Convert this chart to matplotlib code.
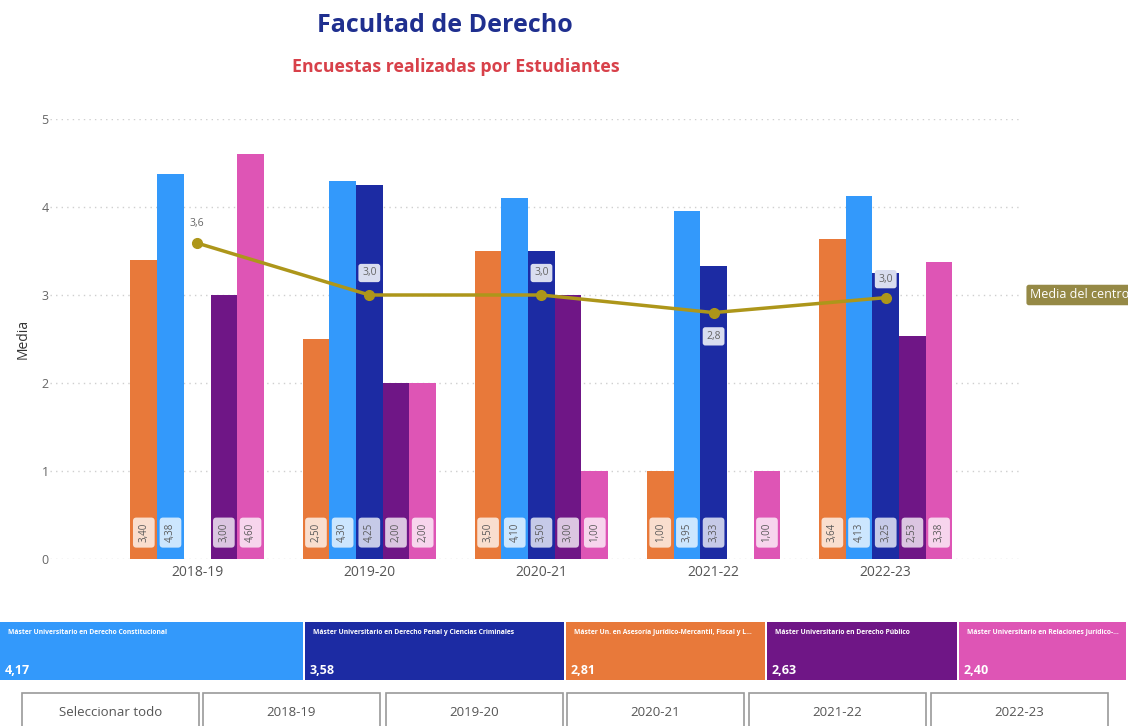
import numpy as np
import matplotlib
matplotlib.use("Agg")
import matplotlib.pyplot as plt
from matplotlib.patches import Rectangle
from matplotlib import colors as mcolors

plt.rcParams['font.family'] = ['Open Sans', 'DejaVu Sans']

years = ["2018-19", "2019-20", "2020-21", "2021-22", "2022-23"]
series_names = [
    "Máster Un. en Asesoría Jurídico-Mercantil, Fiscal y L...",
    "Máster Universitario en Derecho Constitucional",
    "Máster Universitario en Derecho Penal y Ciencias Criminales",
    "Máster Universitario en Derecho Público",
    "Máster Universitario en Relaciones Jurídico-...",
]
asesoria = [3.40, 2.50, 3.50, 1.00, 3.64]
constitucional = [4.38, 4.30, 4.10, 3.95, 4.13]
penal = [np.nan, 4.25, 3.50, 3.33, 3.25]
publico = [3.00, 2.00, 3.00, np.nan, 2.53]
relaciones = [4.60, 2.00, 1.00, 1.00, 3.38]
series_values = [asesoria, constitucional, penal, publico, relaciones]
series_colors = ["#e8793a", "#3399fb", "#1c2ba3", "#6f1686", "#de55b5"]

media_centro = [3.59, 3.0, 3.0, 2.80, 2.97]
media_labels = ["3,6", "3,0", "3,0", "2,8", "3,0"]

card_names = [
    "Máster Universitario en Derecho Constitucional",
    "Máster Universitario en Derecho Penal y Ciencias Criminales",
    "Máster Un. en Asesoría Jurídico-Mercantil, Fiscal y L...",
    "Máster Universitario en Derecho Público",
    "Máster Universitario en Relaciones Jurídico-...",
]
card_values = [4.17, 3.58, 2.81, 2.63, 2.40]
card_colors = ["#3399fb", "#1c2ba3", "#e8793a", "#6f1686", "#de55b5"]
button_labels = ["Seleccionar todo"] + years

W, H = 1128, 726
fig = plt.figure(figsize=(W / 100, H / 100), dpi=100)
fig.patch.set_facecolor("white")

# main axes: y=0 at px 559, y=5 at px 119; x from px 50 to 1020
ax = fig.add_axes([50 / W, (H - 559) / H, 970 / W, 440 / H])
ax.set_xlim(-0.855, 4.78)
ax.set_ylim(0, 5)
for s in ax.spines.values():
    s.set_visible(False)
ax.set_yticks(range(6))
ax.set_yticklabels([str(i) for i in range(6)], color="#666666", fontsize=9)
ax.tick_params(axis="both", length=0)
ax.tick_params(axis="y", pad=1)
ax.set_xticks(range(len(years)))
ax.set_xticklabels(years, color="#555555", fontsize=10)
ax.tick_params(axis="x", pad=4)
ax.grid(axis="y", color="#cfcfcf", linestyle=(0, (1, 3)), linewidth=1)
ax.set_axisbelow(True)
ax.set_ylabel("Media", fontsize=10, color="#333333", labelpad=8)

x = np.arange(len(years))
bw = 0.155
n = len(series_values)
for i, (vals, col) in enumerate(zip(series_values, series_colors)):
    off = (i - (n - 1) / 2) * bw
    vals = np.array(vals, dtype=float)
    mask = ~np.isnan(vals)
    ax.bar(x[mask] + off, vals[mask], width=bw, color=col, zorder=2)
    light = np.array(mcolors.to_rgb(col)) * 0.25 + 0.75
    for xi, v in zip(x[mask] + off, vals[mask]):
        ax.text(xi, 0.3, f"{v:.2f}".replace(".", ","), rotation=90,
                ha="center", va="center", fontsize=7, color="#5a5a5a",
                zorder=4,
                bbox=dict(boxstyle="round,pad=0.55,rounding_size=0.35",
                          fc=light, ec="none"))

line_col = "#ad961a"
ax.plot(x, media_centro, color=line_col, lw=2.5, marker="o", ms=7, zorder=5)
label_offsets = [0.22, 0.25, 0.25, -0.27, 0.21]
label_bg = ["#ffffff", "#d9ddef", "#d9ddef", "#d9ddef", "#d9ddef"]
for xi, v, lab, off, bg in zip(x, media_centro, media_labels, label_offsets, label_bg):
    ax.text(xi, v + off, lab, ha="center", va="center", fontsize=7.5,
            color="#666666", zorder=6,
            bbox=dict(boxstyle="round,pad=0.35,rounding_size=0.25", fc=bg, ec="none"))

ax.text(1.0105, 3.0, "Media del centro", transform=ax.get_yaxis_transform(),
        ha="left", va="center", fontsize=9, color="white", clip_on=False,
        bbox=dict(boxstyle="round,pad=0.3,rounding_size=0.2", fc="#958946", ec="none"))

# titles
fig.text(445 / W, 1 - 25 / H, "Facultad de Derecho", ha="center", va="center",
         fontsize=18, fontweight="bold", color="#1f2f8f")
fig.text(456 / W, 1 - 67 / H, "Encuestas realizadas por Estudiantes", ha="center",
         va="center", fontsize=12.8, fontweight="bold", color="#d8414a")

# overlay for cards and buttons (pixel coordinates)
ov = fig.add_axes([0, 0, 1, 1])
ov.set_xlim(0, W)
ov.set_ylim(H, 0)
ov.axis("off")
ov.patch.set_alpha(0)

card_x = [0, 305, 566, 767, 959, 1128]
for i, (name, val, col) in enumerate(zip(card_names, card_values, card_colors)):
    x0, x1 = card_x[i], card_x[i + 1] - 2
    ov.add_patch(Rectangle((x0, 622), x1 - x0, 58, fc=col, ec="none"))
    ov.text(x0 + 8, 632, name, fontsize=4.9, color="white", fontweight="bold",
            ha="left", va="center")
    ov.text(x0 + 5, 671, f"{val:.2f}".replace(".", ","), fontsize=9,
            color="white", fontweight="bold", ha="left", va="center")

btn_x = [22, 203, 386, 567, 749, 931]
btn_w = 177
for bx, lab in zip(btn_x, button_labels):
    ov.add_patch(Rectangle((bx, 693), btn_w, 40, fc="white", ec="#9a9a9a", lw=1.2))
    ov.text(bx + btn_w / 2, 712, lab, fontsize=9.5, color="#555555",
            ha="center", va="center")

fig.savefig("out.png", dpi=100)
